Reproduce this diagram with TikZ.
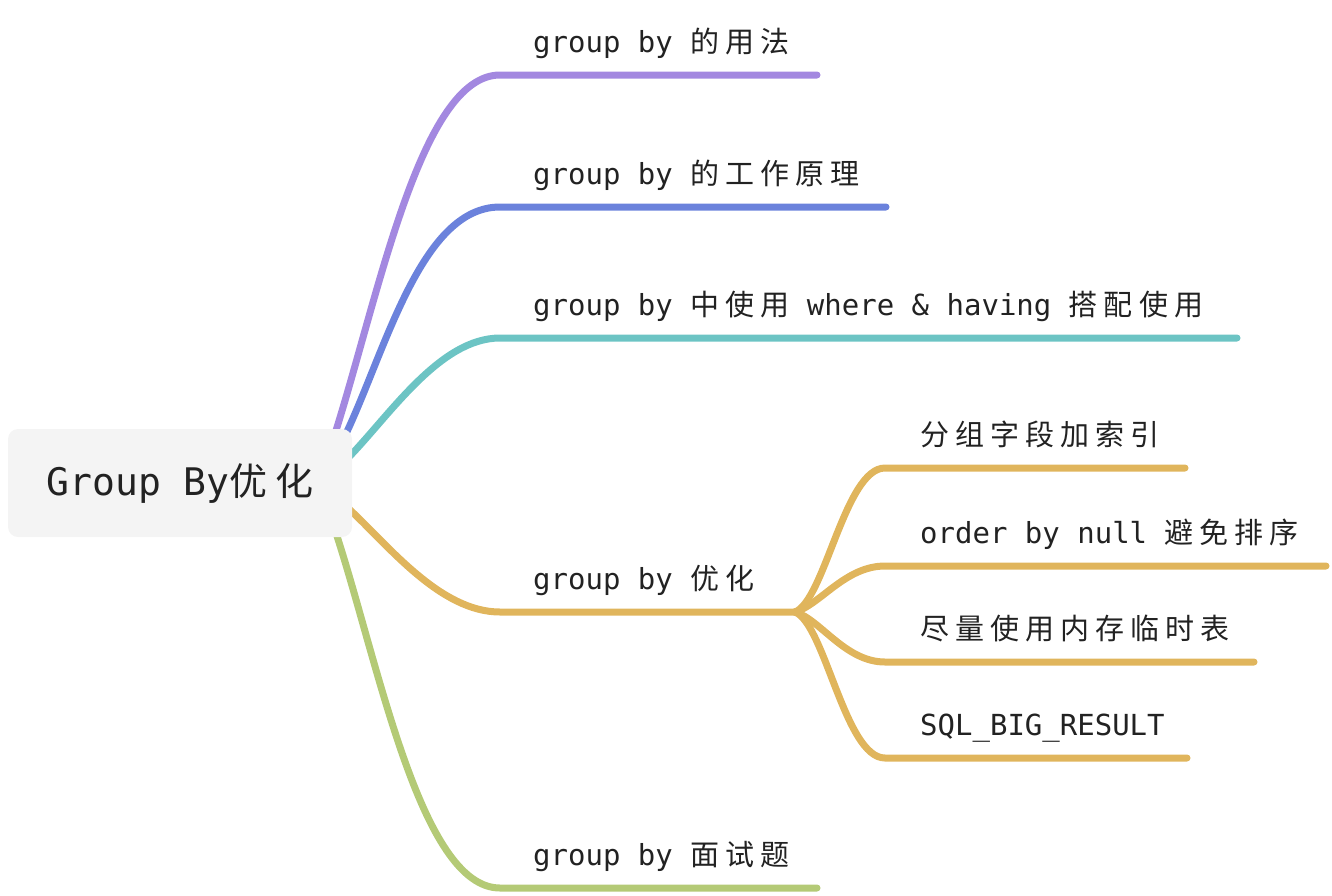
\documentclass[tikz,border=0pt]{standalone}
\usepackage{fontspec}
\setmainfont{DejaVu Sans Mono}
\newfontfamily\cjk{Noto Sans CJK SC}[LetterSpace=21]
\usetikzlibrary{backgrounds,calc}
\newcommand{\zh}[1]{{\cjk #1}}
\definecolor{mmpurple}{HTML}{A388E0}
\definecolor{mmblue}{HTML}{6B82DC}
\definecolor{mmteal}{HTML}{6CC4C4}
\definecolor{mmgold}{HTML}{E0B55C}
\definecolor{mmgreen}{HTML}{B4CA76}
\definecolor{rootgray}{HTML}{F4F4F4}
\definecolor{inkgray}{HTML}{222222}
\tikzset{
  rootbox/.style={rounded corners=10pt,fill=rootgray,minimum width=344pt,minimum height=108pt,
    inner sep=0pt,font=\fontsize{38}{44}\selectfont,text=inkgray},
  topic/.style={anchor=base west,inner sep=0pt,font=\fontsize{29}{34}\selectfont,text=inkgray},
  branch/.style={line width=7pt,line cap=round}
}

\begin{document}
\begin{tikzpicture}[x=1pt,y=-1pt]
\useasboundingbox (0,0) rectangle (1332,895);

% =========================================================
% Root
% =========================================================

\node[rootbox] (root) at (180,483) {Group By\zh{优化}};

\coordinate (root-p) at (333,440);
\coordinate (root-b) at (343,440);
\coordinate (root-t) at (348,458);
\coordinate (root-g) at (348,508);
\coordinate (root-v) at (335,530);

% =========================================================
% Main branches
% =========================================================

\coordinate (usage-a) at (500,75);     \coordinate (usage-b) at (817,75);
\coordinate (work-a) at (500,207);     \coordinate (work-b) at (886,207);
\coordinate (where-a) at (500,338);    \coordinate (where-b) at (1237,338);
\coordinate (opt-a) at (500,612);      \coordinate (fork) at (795,612);
\coordinate (exam-a) at (500,888);     \coordinate (exam-b) at (817,888);

\node[topic] (usage) at ($(usage-a)+(33,-23)$) {group by \zh{的用法}};
\node[topic] (work) at ($(work-a)+(33,-23)$) {group by \zh{的工作原理}};
\node[topic] (where) at ($(where-a)+(33,-23)$) {group by \zh{中使用} where \& having \zh{搭配使用}};
\node[topic] (opt) at ($(opt-a)+(33,-23)$) {group by \zh{优化}};
\node[topic] (exam) at ($(exam-a)+(33,-23)$) {group by \zh{面试题}};

% =========================================================
% Sub branches of the optimisation topic
% =========================================================

\coordinate (idx-a) at (885,468);      \coordinate (idx-b) at (1185,468);
\coordinate (null-a) at (885,566);     \coordinate (null-b) at (1326,566);
\coordinate (mem-a) at (885,662);      \coordinate (mem-b) at (1254,662);
\coordinate (big-a) at (885,758);      \coordinate (big-b) at (1187,758);

\node[topic] (idx) at ($(idx-a)+(35,-23)$) {\zh{分组字段加索引}};
\node[topic] (null) at ($(null-a)+(35,-23)$) {order by null \zh{避免排序}};
\node[topic] (mem) at ($(mem-a)+(35,-23)$) {\zh{尽量使用内存临时表}};
\node[topic] (big) at ($(big-a)+(35,-23)$) {SQL\_BIG\_RESULT};

\begin{scope}[on background layer]
\draw[branch,mmpurple] (root-p) .. controls (378,300) and (420,75) .. (usage-a) -- (usage-b);
\draw[branch,mmblue] (root-b) .. controls (385,354) and (420,207) .. (work-a) -- (work-b);
\draw[branch,mmteal] (root-t) .. controls (390,415) and (440,338) .. (where-a) -- (where-b);
\draw[branch,mmgold] (root-g) .. controls (388,545) and (440,612) .. (opt-a) -- (fork);
\draw[branch,mmgreen] (root-v) .. controls (378,660) and (420,888) .. (exam-a) -- (exam-b);

\draw[branch,mmgold] (fork) .. controls (825,600) and (845,468) .. (idx-a) -- (idx-b);
\draw[branch,mmgold] (fork) .. controls (820,605) and (845,566) .. (null-a) -- (null-b);
\draw[branch,mmgold] (fork) .. controls (820,619) and (845,662) .. (mem-a) -- (mem-b);
\draw[branch,mmgold] (fork) .. controls (825,624) and (845,758) .. (big-a) -- (big-b);
\end{scope}

\end{tikzpicture}
\end{document}
